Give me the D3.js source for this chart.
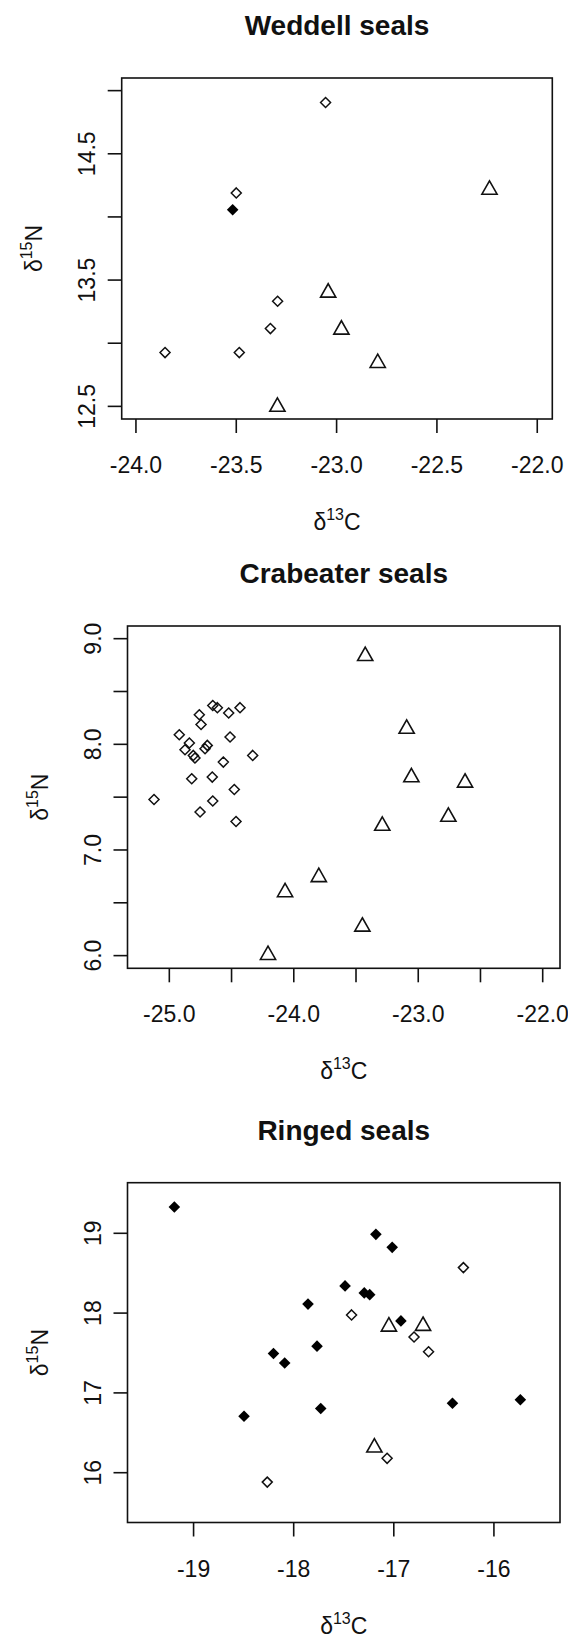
<!DOCTYPE html>
<html>
<head>
<meta charset="utf-8">
<script src="https://cdn.jsdelivr.net/npm/d3@7"></script>
<style>
  body { margin: 0; background: #fff; }
  text { font-family: "Liberation Sans", Arial, sans-serif; fill: #111; }
</style>
</head>
<body>
<svg id="chart"></svg>
<script>
// d13C / d15N values
var weddellOpen = [[-23.055, 14.906], [-23.50, 14.19], [-23.294, 13.332], [-23.33, 13.116], [-23.855, 12.926], [-23.485, 12.926]];
var weddellFilled = [[-23.518, 14.057]];
var weddellTri = [[-22.238, 14.233], [-23.042, 13.418], [-22.976, 13.125], [-22.795, 12.861], [-23.295, 12.514]];

var crabeaterOpen = [[-24.651, 8.368], [-24.614, 8.347], [-24.759, 8.28], [-24.523, 8.296], [-24.432, 8.347],
    [-24.745, 8.188], [-24.92, 8.091], [-24.512, 8.069], [-24.839, 8.012], [-24.874, 7.949], [-24.695, 7.99],
    [-24.713, 7.958], [-24.807, 7.895], [-24.794, 7.87], [-24.33, 7.895], [-24.566, 7.832], [-24.82, 7.674],
    [-24.655, 7.69], [-24.478, 7.573], [-25.123, 7.478], [-24.651, 7.463], [-24.753, 7.359], [-24.464, 7.27]];
var crabeaterFilled = [];
var crabeaterTri = [[-23.426, 8.857], [-23.093, 8.168], [-23.055, 7.709], [-22.624, 7.658], [-22.758, 7.335],
    [-23.289, 7.25], [-23.799, 6.764], [-24.07, 6.621], [-23.449, 6.295], [-24.207, 6.027]];

var ringedOpen = [[-16.305, 18.57], [-17.422, 17.977], [-16.798, 17.7], [-16.653, 17.516], [-17.067, 16.18], [-18.264, 15.882]];
var ringedFilled = [[-19.192, 19.329], [-17.179, 18.987], [-17.016, 18.824], [-17.487, 18.341], [-17.295, 18.253],
    [-17.241, 18.231], [-17.857, 18.113], [-16.929, 17.902], [-17.767, 17.586], [-18.202, 17.494], [-18.09, 17.375],
    [-18.496, 16.707], [-17.73, 16.804], [-16.414, 16.87], [-15.736, 16.914]];
var ringedTri = [[-17.049, 17.858], [-16.708, 17.867], [-17.194, 16.343]];

var titles = ["Weddell seals", "Crabeater seals", "Ringed seals"];

var weddellXTicks = [-24, -23.5, -23, -22.5, -22];
var weddellXLabels = ["-24.0", "-23.5", "-23.0", "-22.5", "-22.0"];
var weddellYTicks = [12.5, 13, 13.5, 14, 14.5, 15];
var weddellYLabels = ["12.5", "", "13.5", "", "14.5", ""];

var crabeaterXTicks = [-25, -24.5, -24, -23.5, -23, -22.5, -22];
var crabeaterXLabels = ["-25.0", "", "-24.0", "", "-23.0", "", "-22.0"];
var crabeaterYTicks = [6, 6.5, 7, 7.5, 8, 8.5, 9];
var crabeaterYLabels = ["6.0", "", "7.0", "", "8.0", "", "9.0"];

var ringedXTicks = [-19, -18, -17, -16];
var ringedXLabels = ["-19", "-18", "-17", "-16"];
var ringedYTicks = [16, 17, 18, 19];
var ringedYLabels = ["16", "17", "18", "19"];

var width = 568, height = 1639;

var svg = d3.select("#chart")
    .attr("width", width)
    .attr("height", height);

//panel boxes, domains are R's extended limits
var panels = [
    {title: titles[0], left: 121.7, right: 552.3, top: 78, bottom: 419,
     xDom: [-24.071, -21.925], yDom: [12.4, 15.1],
     xTicks: weddellXTicks, xLabels: weddellXLabels, yTicks: weddellYTicks, yLabels: weddellYLabels,
     open: weddellOpen, filled: weddellFilled, tri: weddellTri},
    {title: titles[1], left: 127.5, right: 560, top: 626, bottom: 968.3,
     xDom: [-25.336, -21.861], yDom: [5.88, 9.12],
     xTicks: crabeaterXTicks, xLabels: crabeaterXLabels, yTicks: crabeaterYTicks, yLabels: crabeaterYLabels,
     open: crabeaterOpen, filled: crabeaterFilled, tri: crabeaterTri},
    {title: titles[2], left: 127.5, right: 560, top: 1182.7, bottom: 1522.5,
     xDom: [-19.66, -15.34], yDom: [15.376, 19.634],
     xTicks: ringedXTicks, xLabels: ringedXLabels, yTicks: ringedYTicks, yLabels: ringedYLabels,
     open: ringedOpen, filled: ringedFilled, tri: ringedTri}
];

var diamondPath = function (r) {
    return "M0," + (-r) + "L" + r + ",0L0," + r + "L" + (-r) + ",0Z";
};
var trianglePath = "M0,-6.7L7.6,6.7L-7.6,6.7Z";

panels.forEach(function (p) {
    var x = d3.scaleLinear().domain(p.xDom).range([p.left, p.right]);
    var y = d3.scaleLinear().domain(p.yDom).range([p.bottom, p.top]);
    var g = svg.append("g");
    var midX = (p.left + p.right) / 2;
    var midY = (p.top + p.bottom) / 2;

    g.append("text")
        .attr("x", midX)
        .attr("y", p.top - 43)
        .attr("text-anchor", "middle")
        .attr("font-size", "28px")
        .attr("font-weight", "bold")
        .text(p.title);

    // x axis ticks + labels
    g.selectAll(".xtick")
        .data(p.xTicks)
        .enter().append("line")
        .attr("x1", function (d) { return x(d); })
        .attr("x2", function (d) { return x(d); })
        .attr("y1", p.bottom)
        .attr("y2", p.bottom + 14)
        .attr("stroke", "#111")
        .attr("stroke-width", 1.6);

    g.selectAll(".xlab")
        .data(p.xTicks)
        .enter().append("text")
        .attr("x", function (d) { return x(d); })
        .attr("y", p.bottom + 54)
        .attr("text-anchor", "middle")
        .attr("font-size", "23px")
        .text(function (d, i) { return p.xLabels[i]; });

    // y axis ticks + rotated labels
    g.selectAll(".ytick")
        .data(p.yTicks)
        .enter().append("line")
        .attr("x1", p.left)
        .attr("x2", p.left - 14)
        .attr("y1", function (d) { return y(d); })
        .attr("y2", function (d) { return y(d); })
        .attr("stroke", "#111")
        .attr("stroke-width", 1.6);

    g.selectAll(".ylab")
        .data(p.yTicks)
        .enter().append("text")
        .attr("transform", function (d) { return "translate(" + (p.left - 27) + "," + y(d) + ") rotate(-90)"; })
        .attr("text-anchor", "middle")
        .attr("font-size", "23px")
        .text(function (d, i) { return p.yLabels[i]; });

    // axis titles
    var xt = g.append("text")
        .attr("x", midX)
        .attr("y", p.bottom + 111)
        .attr("text-anchor", "middle")
        .attr("font-size", "23px");
    xt.append("tspan").text("δ");
    xt.append("tspan").attr("font-size", "16px").attr("dy", -10).text("13");
    xt.append("tspan").attr("dy", 10).text("C");

    var yt = g.append("text")
        .attr("transform", "translate(" + (p.left - 80) + "," + midY + ") rotate(-90)")
        .attr("text-anchor", "middle")
        .attr("font-size", "23px");
    yt.append("tspan").text("δ");
    yt.append("tspan").attr("font-size", "16px").attr("dy", -10).text("15");
    yt.append("tspan").attr("dy", 10).text("N");

    // points
    g.selectAll(".open")
        .data(p.open)
        .enter().append("path")
        .attr("d", diamondPath(5))
        .attr("transform", function (d) { return "translate(" + x(d[0]) + "," + y(d[1]) + ")"; })
        .attr("fill", "none")
        .attr("stroke", "#111")
        .attr("stroke-width", 1.5);

    g.selectAll(".filled")
        .data(p.filled)
        .enter().append("path")
        .attr("d", diamondPath(5.8))
        .attr("transform", function (d) { return "translate(" + x(d[0]) + "," + y(d[1]) + ")"; })
        .attr("fill", "#000");

    g.selectAll(".tri")
        .data(p.tri)
        .enter().append("path")
        .attr("d", trianglePath)
        .attr("transform", function (d) { return "translate(" + x(d[0]) + "," + y(d[1]) + ")"; })
        .attr("fill", "none")
        .attr("stroke", "#111")
        .attr("stroke-width", 1.6);

    // frame
    g.append("rect")
        .attr("x", p.left)
        .attr("y", p.top)
        .attr("width", p.right - p.left)
        .attr("height", p.bottom - p.top)
        .attr("fill", "none")
        .attr("stroke", "#111")
        .attr("stroke-width", 1.6);
});
</script>
</body>
</html>
